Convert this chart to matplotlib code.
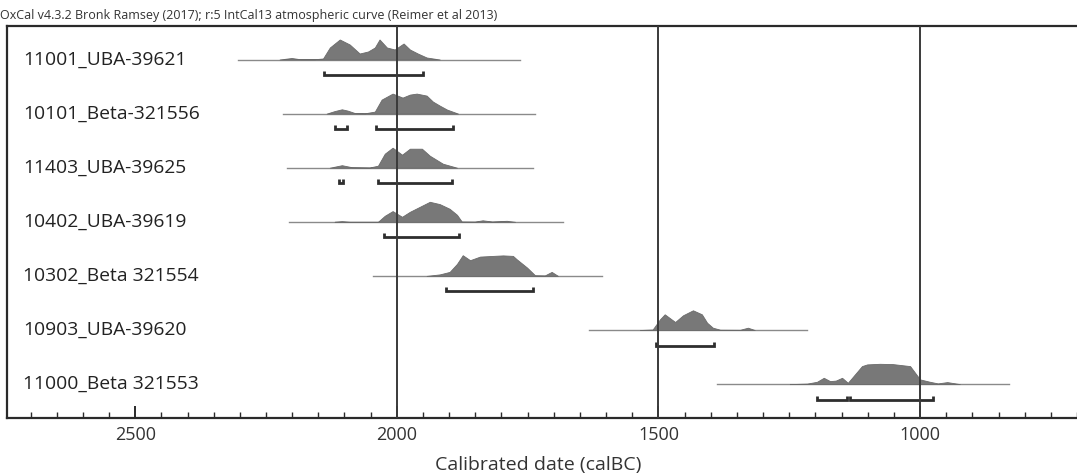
import matplotlib
matplotlib.use("Agg")
import matplotlib.pyplot as plt
from matplotlib.ticker import MultipleLocator

# ---------------- data (calBC years, relative probability heights 0-20) -------------
labels = ["11001_UBA-39621", "10101_Beta-321556", "11403_UBA-39625", "10402_UBA-39619",
          "10302_Beta 321554", "10903_UBA-39620", "11000_Beta 321553"]

range_extent = [(2304, 1765), (2218, 1736), (2210, 1740), (2206, 1683),
                (2046, 1608), (1633, 1216), (1388, 830)]

years_1 = [2224, 2201, 2185, 2157, 2141, 2128, 2109, 2090, 2071, 2055, 2042, 2033, 2019, 2004, 1987, 1975, 1960, 1943, 1918]
dens_1 = [0, 1.5, 0.3, 0.3, 1, 12, 20, 15, 6, 8, 12, 20, 12, 10, 16, 10, 6, 2, 0]

years_2 = [2134, 2119, 2105, 2094, 2080, 2061, 2042, 2029, 2008, 1989, 1975, 1962, 1943, 1931, 1918, 1904, 1883]
dens_2 = [0, 2.5, 4.3, 3, 0.5, 0.3, 2, 14, 20, 16, 19, 20, 18, 12, 8, 4, 0]

years_3 = [2128, 2105, 2086, 2052, 2036, 2023, 2008, 1990, 1975, 1952, 1937, 1912, 1885]
dens_3 = [0, 2.5, 0.5, 0.2, 2, 14, 20, 13, 19, 19, 12, 4, 0]

years_4 = [2119, 2105, 2090, 2036, 2023, 2008, 1990, 1975, 1956, 1937, 1918, 1899, 1885, 1876, 1851, 1836, 1818, 1790, 1774]
dens_4 = [0, 0.6, 0, 0, 6, 10.7, 5, 10, 15, 20, 17.7, 13, 7, 0.3, 0.2, 1.5, 0.3, 1, 0]

years_5 = [1943, 1918, 1899, 1885, 1874, 1860, 1841, 1816, 1797, 1778, 1771, 1751, 1736, 1717, 1704, 1692]
dens_5 = [0, 1.5, 4, 12, 20.7, 15.7, 19.3, 20, 20.5, 20, 16.7, 8.3, 0.7, 0.5, 4, 0]

years_6 = [1535, 1511, 1497, 1488, 1468, 1453, 1434, 1417, 1407, 1396, 1382, 1344, 1329, 1316]
dens_6 = [0, 0.5, 10.7, 15.7, 8, 14.7, 19.7, 15.7, 7.3, 2.3, 0.3, 0.2, 2.3, 0]

years_7 = [1249, 1216, 1197, 1184, 1172, 1161, 1149, 1138, 1111, 1101, 1077, 1052, 1019, 1000, 981, 966, 948, 924]
dens_7 = [0, 0.5, 2.3, 6.3, 3, 3.5, 6.3, 1.3, 18, 19.7, 20.3, 20, 18, 4.7, 2.3, 0.7, 2, 0]

years_all = [years_1, years_2, years_3, years_4, years_5, years_6, years_7]
dens_all = [dens_1, dens_2, dens_3, dens_4, dens_5, dens_6, dens_7]

# 95.4% ranges (calBC)
ranges_all = [
    [(2140, 1950)],
    [(2119, 2096), (2040, 1893)],
    [(2111, 2103), (2036, 1895)],
    [(2025, 1881)],
    [(1906, 1740)],
    [(1505, 1394)],
    [(1197, 1140), (1134, 975)],
]

ref_lines = [2000, 1500, 1000]
header = "OxCal v4.3.2 Bronk Ramsey (2017); r:5 IntCal13 atmospheric curve (Reimer et al 2013)"
xlabel = "Calibrated date (calBC)"

# ---------------- drawing -------------
plt.rcParams['font.family'] = ['Open Sans', 'DejaVu Sans']

W, H = 1077, 475
fig = plt.figure(figsize=(W / 100, H / 100), dpi=100)
top_px, bot_px, left_px = 26, 418, 7
ax = fig.add_axes([left_px / W, 1 - bot_px / H, 1 - left_px / W, (bot_px - top_px) / H])

ax.set_xlim(2745, 700)
ax.set_ylim(bot_px - top_px, 0)

row0, row_step = 33.5, 54.1
fill_col = "#787878"
dark = "#2e2e2e"

for i, (lab, ext, yrs, dens, rngs) in enumerate(zip(labels, range_extent, years_all, dens_all, ranges_all)):
    base = row0 + row_step * i
    ax.plot(list(ext), [base, base], color="#8a8a8a", lw=1.0, zorder=2)
    ax.fill_between(yrs, [base] * len(yrs), [base - d for d in dens],
                    color=fill_col, lw=0.6, edgecolor="#6a6a6a", zorder=3)
    yb = base + 15.5
    for (a, b) in rngs:
        ax.plot([a, a, b, b], [yb - 4, yb, yb, yb - 4], color=dark, lw=2.0,
                solid_joinstyle="miter", solid_capstyle="butt", zorder=4)
    ax.text(2714, base, lab, fontsize=13.9, color="#222222", va="center", ha="left")

for r in ref_lines:
    ax.axvline(r, color="#3a3a3a", lw=1.4, zorder=5)

ax.spines['right'].set_visible(False)
for s in ['top', 'bottom', 'left']:
    ax.spines[s].set_color("#2a2a2a")
    ax.spines[s].set_linewidth(1.6)

ax.set_yticks([])
ax.xaxis.set_major_locator(MultipleLocator(500))
ax.xaxis.set_minor_locator(MultipleLocator(50))
ax.tick_params(axis='x', which='major', direction='in', length=8.5, width=1.4,
               color="#2a2a2a", labelsize=13, labelcolor="#333333", pad=6)
ax.tick_params(axis='x', which='minor', direction='in', length=4.3, width=1.0, color="#2a2a2a")

fig.text(0.5, 1 - 465 / H, xlabel, ha="center", va="center", fontsize=14, color="#333333")
fig.text(0.0, 1 - 15.5 / H, header, ha="left", va="center", fontsize=9.0, color="#333333")

fig.savefig("out.png", dpi=100)
